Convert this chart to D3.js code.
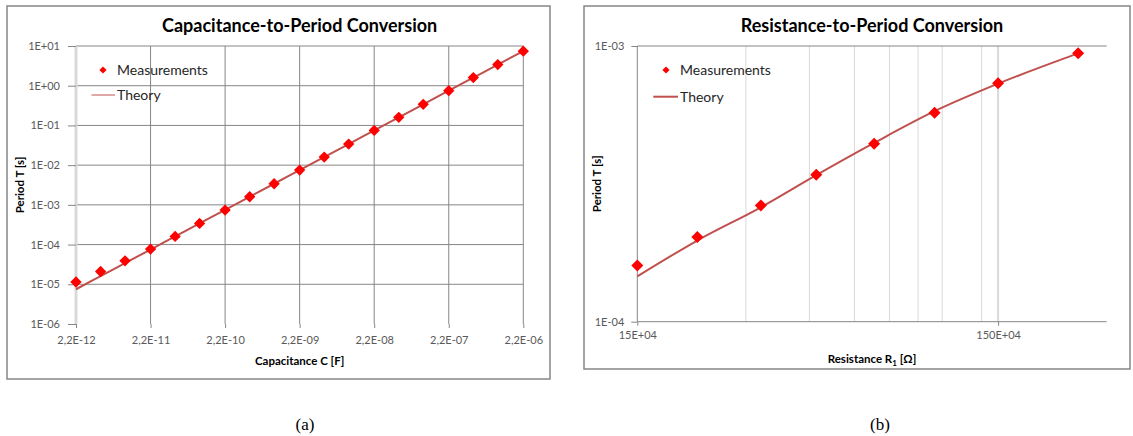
<!DOCTYPE html>
<html>
<head>
<meta charset="utf-8">
<script src="https://cdn.jsdelivr.net/npm/d3@7"></script>
<style>
body { margin: 0; background: #fff; }
svg text { font-family: Lato, 'Open Sans', sans-serif; }
svg text.caption { font-family: 'Liberation Serif', serif; }
</style>
</head>
<body>
<div class="canvas"></div>
<script>
// (a) capacitance sweep
const capValues = [2.2e-12, 4.7e-12, 1e-11, 2.2e-11, 4.7e-11, 1e-10, 2.2e-10, 4.7e-10, 1e-9, 2.2e-9,
    4.7e-9, 1e-8, 2.2e-8, 4.7e-8, 1e-7, 2.2e-7, 4.7e-7, 1e-6, 2.2e-6];
const capMeasured = [1.14e-5, 2.1e-5, 3.9e-5, 7.7e-5, 1.6e-4, 3.4e-4, 7.4e-4, 1.6e-3, 3.4e-3, 7.5e-3,
    1.6e-2, 3.4e-2, 7.5e-2, 1.6e-1, 3.4e-1, 7.5e-1, 1.6, 3.4, 7.4];
const capTheory = [7.5e-6, 1.6e-5, 3.4e-5, 7.5e-5, 1.6e-4, 3.4e-4, 7.5e-4, 1.6e-3, 3.4e-3, 7.5e-3,
    1.6e-2, 3.4e-2, 7.5e-2, 1.6e-1, 3.4e-1, 7.5e-1, 1.6, 3.4, 7.5];
const capTicks = [2.2e-12, 2.2e-11, 2.2e-10, 2.2e-9, 2.2e-8, 2.2e-7, 2.2e-6];
const capTickLabels = ['2,2E-12', '2,2E-11', '2,2E-10', '2,2E-09', '2,2E-08', '2,2E-07', '2,2E-06'];
const periodTicksA = [1e-6, 1e-5, 1e-4, 1e-3, 1e-2, 1e-1, 1, 10];
const periodTickLabelsA = ['1E-06', '1E-05', '1E-04', '1E-03', '1E-02', '1E-01', '1E+00', '1E+01'];

// (b) resistance sweep
const resValues = [1.5e5, 2.2e5, 3.3e5, 4.7e5, 6.8e5, 1e6, 1.5e6, 2.5e6];
const resMeasured = [1.60e-4, 2.03e-4, 2.64e-4, 3.41e-4, 4.42e-4, 5.73e-4, 7.32e-4, 9.41e-4];
const resTheory = [1.46e-4, 1.97e-4, 2.60e-4, 3.40e-4, 4.45e-4, 5.80e-4, 7.30e-4, 9.40e-4];
const resTicks = [1.5e5, 1.5e6];
const resTickLabels = ['15E+04', '150E+04'];
const resMinorGrid = [3e5, 4.5e5, 6e5, 7.5e5, 9e5, 1.05e6, 1.35e6];
const periodTicksB = [1e-4, 1e-3];
const periodTickLabelsB = ['1E-04', '1E-03'];

const red = '#ff0000'
const lineRed = '#c0504d'
const gridGray = '#868686'
const lightGray = '#d9d9d9'

const svg = d3.select('.canvas')
    .append('svg')
    .attr('width', 1133)
    .attr('height', 436)

const diamond = (size) => d3.symbol(d3.symbolSquare, size)

const drawPanel = (p) => {
    const g = svg.append('g')

    // chart frame
    g.append('rect')
        .attr('x', p.frame[0]).attr('y', p.frame[1])
        .attr('width', p.frame[2] - p.frame[0]).attr('height', p.frame[3] - p.frame[1])
        .attr('fill', 'none')
        .attr('stroke', gridGray)
        .attr('stroke-width', 1.5)

    g.append('text')
        .attr('x', (p.x.range()[0] + p.x.range()[1]) / 2)
        .attr('y', 32)
        .attr('text-anchor', 'middle')
        .attr('font-size', 18)
        .attr('font-weight', 'bold')
        .text(p.title)

    p.drawGrid(g)

    // y axis
    const yAxis = g.append('g')
        .attr('transform', `translate(${p.x.range()[0]},0)`)
        .call(d3.axisLeft(p.y).tickValues(p.yTicks)
            .tickFormat((d, i) => p.yLabels[i])
            .tickSize(p.yTickSize).tickPadding(p.yTickPad))
    yAxis.select('.domain').remove()
    yAxis.selectAll('line').attr('stroke', gridGray)
    yAxis.selectAll('text').attr('font-size', 11).attr('fill', '#595959')

    // x axis
    const xAxis = g.append('g')
        .attr('transform', `translate(0,${p.y.range()[0]})`)
        .call(d3.axisBottom(p.x).tickValues(p.xTicks)
            .tickFormat((d, i) => p.xLabels[i])
            .tickSize(4).tickPadding(p.xTickPad))
    xAxis.select('.domain').remove()
    xAxis.selectAll('line').attr('stroke', gridGray)
    xAxis.selectAll('text').attr('font-size', 11).attr('fill', '#595959')

    // axis titles
    g.append('text')
        .attr('transform', `translate(${p.yTitleX},${(p.y.range()[0] + p.y.range()[1]) / 2}) rotate(-90)`)
        .attr('text-anchor', 'middle')
        .attr('dy', '0.35em')
        .attr('font-size', 11.5)
        .attr('font-weight', 'bold')
        .text('Period T [s]')

    p.xTitle(g.append('text')
        .attr('x', (p.x.range()[0] + p.x.range()[1]) / 2)
        .attr('y', p.xTitleY)
        .attr('text-anchor', 'middle')
        .attr('font-size', 11.5)
        .attr('font-weight', 'bold'))

    // theory line
    const line = d3.line()
        .x((d, i) => p.x(p.theoryX[i]))
        .y(d => p.y(d))
        .curve(d3.curveMonotoneX)
    g.append('path')
        .datum(p.theoryY)
        .attr('d', line)
        .attr('fill', 'none')
        .attr('stroke', lineRed)
        .attr('stroke-width', 2)

    // measurements
    g.selectAll('path.marker')
        .data(p.measY)
        .enter()
        .append('path')
        .classed('marker', true)
        .attr('d', diamond(p.markerSize))
        .attr('transform', (d, i) => `translate(${p.x(p.measX[i])},${p.y(d)}) rotate(45)`)
        .attr('fill', red)

    // legend
    const lg = g.append('g').attr('transform', `translate(${p.legend[0]},${p.legend[1]})`)
    lg.append('path')
        .attr('d', diamond(26))
        .attr('transform', `translate(-14,0) rotate(45)`)
        .attr('fill', red)
    lg.append('text')
        .attr('dy', '0.35em')
        .attr('font-size', 14).attr('fill', '#262626')
        .text('Measurements')
    lg.append('line')
        .attr('x1', p.legendLine[0]).attr('x2', p.legendLine[1])
        .attr('y1', p.legendGap).attr('y2', p.legendGap)
        .attr('stroke', lineRed)
        .attr('stroke-width', p.legendLineWidth)
    lg.append('text')
        .attr('y', p.legendGap).attr('dy', '0.35em')
        .attr('font-size', 14).attr('fill', '#262626')
        .text('Theory')
}

// panel (a)
const xA = d3.scaleLog().domain([2.2e-12, 2.2e-6]).range([76, 523.3])
const yA = d3.scaleLog().domain([1e-6, 10]).range([324, 46])

drawPanel({
    frame: [7, 6, 550, 379],
    title: 'Capacitance-to-Period Conversion',
    x: xA, y: yA,
    xTicks: capTicks, xLabels: capTickLabels, xTickPad: 8,
    yTicks: periodTicksA, yLabels: periodTickLabelsA, yTickSize: 8, yTickPad: 8,
    yTitleX: 20, xTitleY: 365,
    xTitle: t => t.text('Capacitance C [F]'),
    drawGrid: g => {
        g.selectAll('line.hgrid')
            .data(periodTicksA.slice(1))
            .enter().append('line')
            .attr('x1', xA.range()[0]).attr('x2', xA.range()[1])
            .attr('y1', d => yA(d)).attr('y2', d => yA(d))
            .attr('stroke', gridGray)
        g.selectAll('line.vgrid')
            .data(capTicks)
            .enter().append('line')
            .attr('x1', d => xA(d)).attr('x2', d => xA(d))
            .attr('y1', yA.range()[1]).attr('y2', yA.range()[0])
            .attr('stroke', (d, i) => i === 0 ? lightGray : gridGray)
            .attr('stroke-width', (d, i) => i === 0 ? 3 : 1)
    },
    theoryX: capValues, theoryY: capTheory,
    measX: capValues, measY: capMeasured, markerSize: 64,
    legend: [117, 70], legendLine: [-25.5, -2], legendGap: 25, legendLineWidth: 1
})

// panel (b)
const xB = d3.scaleLog().domain([1.5e5, 3e6]).range([637.3, 1106.7])
const yB = d3.scaleLog().domain([1e-4, 1e-3]).range([321.7, 46])

drawPanel({
    frame: [584, 6, 1130, 369],
    title: 'Resistance-to-Period Conversion',
    x: xB, y: yB,
    xTicks: resTicks, xLabels: resTickLabels, xTickPad: 6,
    yTicks: periodTicksB, yLabels: periodTickLabelsB, yTickSize: 6, yTickPad: 7,
    yTitleX: 597, xTitleY: 363,
    xTitle: t => {
        t.append('tspan').text('Resistance R')
        t.append('tspan').attr('font-size', 8).attr('dy', 3).text('1')
        t.append('tspan').attr('dy', -3).text(' [Ω]')
    },
    drawGrid: g => {
        g.selectAll('line.vgrid')
            .data(resMinorGrid.concat(resTicks))
            .enter().append('line')
            .attr('x1', d => xB(d)).attr('x2', d => xB(d))
            .attr('y1', yB.range()[1]).attr('y2', yB.range()[0])
            .attr('stroke', d => d === resTicks[0] ? gridGray : lightGray)
            .attr('stroke-width', d => d === resTicks[1] ? 2 : 1)
        g.selectAll('line.hgrid')
            .data(periodTicksB)
            .enter().append('line')
            .attr('x1', xB.range()[0]).attr('x2', xB.range()[1])
            .attr('y1', d => yB(d)).attr('y2', d => yB(d))
            .attr('stroke', gridGray)
    },
    theoryX: resValues, theoryY: resTheory,
    measX: resValues, measY: resMeasured, markerSize: 72,
    legend: [680, 70], legendLine: [-26.7, -2], legendGap: 26.7, legendLineWidth: 2
})

// captions
svg.selectAll('text.caption')
    .data(['(a)', '(b)'])
    .enter().append('text')
    .classed('caption', true)
    .attr('x', (d, i) => i === 0 ? 305 : 880)
    .attr('y', 430)
    .attr('text-anchor', 'middle')
    .attr('font-size', 17)
    .text(d => d)
</script>
</body>
</html>
